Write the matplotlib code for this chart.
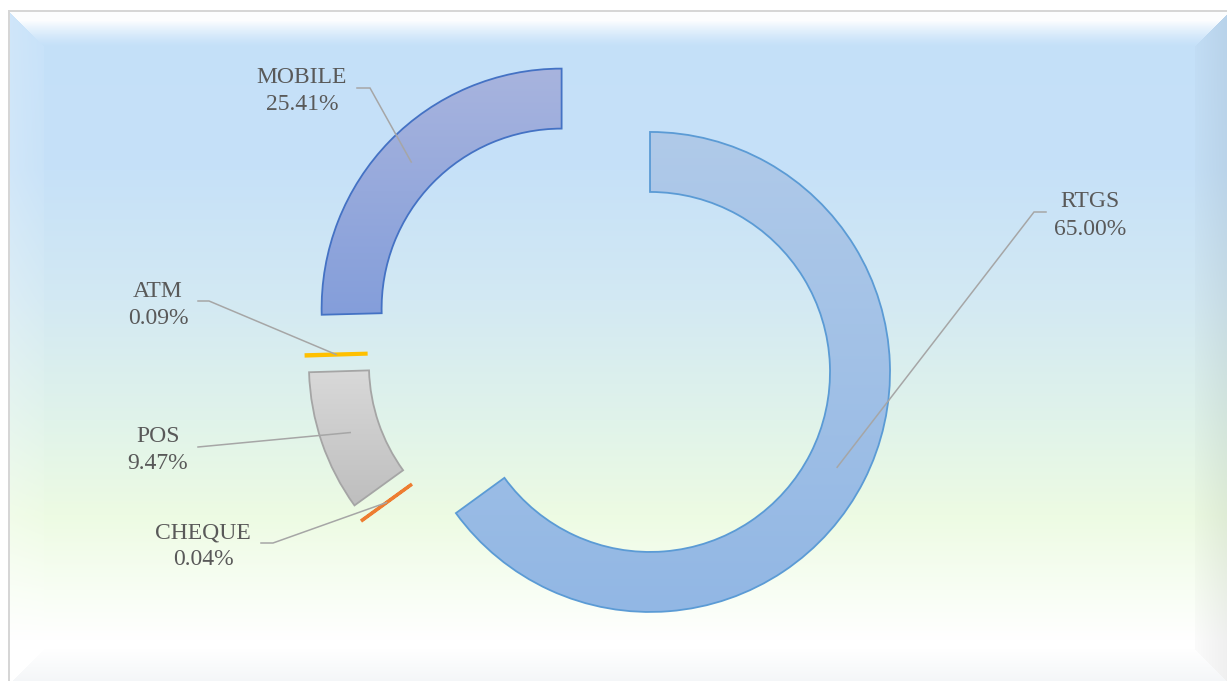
import numpy as np
import matplotlib
matplotlib.use("Agg")
import matplotlib.pyplot as plt

# data
channels = ["RTGS", "CHEQUE", "POS", "ATM", "MOBILE"]
shares = [65.00, 0.04, 9.47, 0.09, 25.41]
edge_colors = ["#5B9BD5", "#ED7D31", "#A5A5A5", "#FFC000", "#4472C4"]
# gradient fill (top colour, bottom colour) per slice, None for the hairline slices
fills = [((176, 202, 233), (146, 183, 228)), None,
         ((217, 217, 217), (190, 190, 190)), None,
         ((168, 180, 222), (132, 158, 218))]

# label layout in pixel coords: x centre, name baseline, pct baseline, elbow (x_text_side, x_end, y)
label_pos = {
    "RTGS":   (1090, 207, 235, (1046, 1034, 212)),
    "CHEQUE": (203, 538, 565, (261, 273, 543)),
    "POS":    (158, 442, 469, (198, 198, 447)),
    "ATM":    (158, 297, 324, (198, 209, 301)),
    "MOBILE": (302, 83, 110, (357, 370, 88)),
}

W, H = 1227, 681
fig = plt.figure(figsize=(W / 100, H / 100), dpi=100)
ax = fig.add_axes([0, 0, 1, 1])

# background: vertical gradient with a soft bevelled frame
yy, xx = np.mgrid[0:H, 0:W].astype(float)
stop_y = [0, 170, 300, 420, 515, 590, 640, 681]
stop_c = np.array([(196, 224, 249), (198, 225, 248), (211, 233, 243), (224, 243, 234),
                   (237, 251, 227), (248, 254, 244), (255, 255, 255), (255, 255, 255)]) / 255
col = np.stack([np.interp(np.arange(H), stop_y, stop_c[:, k]) for k in range(3)], axis=-1)
bg = np.repeat(col[:, None, :], W, axis=1)

L, T, R, B, bw = 8, 10, 1230, 684, 36
dl, dt, dr, db = xx - L, yy - T, R - xx, B - yy
dmin = np.minimum(np.minimum(dl, dt), np.minimum(dr, db))
band = dmin < bw
white = np.ones(3)

top = band & (dt == dmin)
f = np.clip((bw - dt) / (bw - 10), 0, 1) ** 1.3 * 0.95
bg[top] = bg[top] * (1 - f[top, None]) + white * f[top, None]

left = band & (dl == dmin) & ~top
fl_ = 0.06 + 0.14 * np.clip(1 - dl / bw, 0, 1)
bg[left] = bg[left] * (1 - fl_[left, None]) + white * fl_[left, None]

right = band & (dr == dmin) & ~top & ~left
fr = 1 - 0.05 * np.clip(1 - dr / bw, 0, 1) - 0.015
bg[right] = bg[right] * fr[right, None]

bottom = band & (db == dmin) & ~top & ~left & ~right
fb = np.clip(1 - db / bw, 0, 1)
grey = np.array([238, 241, 244]) / 255
bg[bottom] = (bg[bottom] * 0.3 + white * 0.7) * (1 - fb[bottom, None] * 0.7) + grey * fb[bottom, None] * 0.7

outside = (dl < 0) | (dt < 0) | (dr < 0) | (db < 0)
bg[outside] = 1.0
edge = ~outside & (np.minimum(dl, dt) < 1.5)
bg[edge] = np.array([214, 214, 214]) / 255

ax.imshow(bg, extent=(0, W, 0, H), origin="upper", zorder=0, interpolation="bilinear")

# doughnut, every slice pulled out from the centre
centre = (601, H - 347)
radius, ring = 240, 60
wedges, _ = ax.pie(shares, explode=[55] * len(shares), radius=radius, center=centre,
                   startangle=90, counterclock=False,
                   wedgeprops=dict(width=ring, facecolor="none", zorder=3))

for w, ec, fl, name in zip(wedges, edge_colors, fills, channels):
    w.set_edgecolor(ec)
    w.set_linewidth(1.3 if fl is not None else 2.2)
    if fl is not None:
        bb = w.get_path().get_extents()
        top_c, bot_c = np.array(fl[0]) / 255, np.array(fl[1]) / 255
        t = np.linspace(0, 1, 256)[:, None]
        grad = (top_c * (1 - t) + bot_c * t)[:, None, :]
        im = ax.imshow(grad, extent=(bb.x0, bb.x1, bb.y0, bb.y1), origin="upper",
                       aspect="auto", zorder=2, interpolation="bilinear")
        im.set_clip_path(w)

# labels and leader lines
txt_kw = dict(family=["Liberation Serif", "DejaVu Serif"], fontsize=17, color="#595959",
              ha="center", va="baseline", zorder=5)
for w, name, val in zip(wedges, channels, shares):
    xc, yb1, yb2, (ex0, ex1, ey) = label_pos[name]
    ax.text(xc, H - yb1, name, **txt_kw)
    ax.text(xc, H - yb2, f"{val:.2f}%", **txt_kw)
    mid = np.deg2rad((w.theta1 + w.theta2) / 2)
    rm = w.r - w.width / 2
    ax_x = w.center[0] + rm * np.cos(mid)
    ax_y = w.center[1] + rm * np.sin(mid)
    ax.plot([ex0, ex1, ax_x], [H - ey, H - ey, ax_y], color="#A6A6A6", lw=1.1,
            zorder=4, solid_joinstyle="miter")

ax.set_xlim(0, W)
ax.set_ylim(0, H)
ax.axis("off")

fig.savefig("out.png", dpi=100)
